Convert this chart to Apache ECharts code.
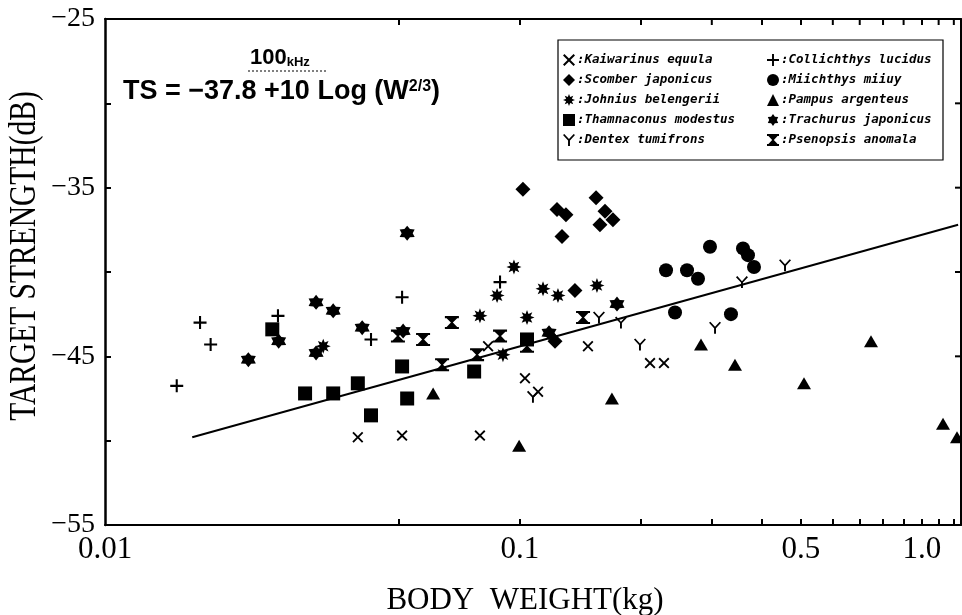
<!DOCTYPE html>
<html><head><meta charset="utf-8">
<script src="https://cdn.jsdelivr.net/npm/echarts@6/dist/echarts.min.js"></script>
<style>html,body{margin:0;padding:0;background:#fff}#c{width:962px;height:615px}</style>
</head><body><div id="c"></div>
<script>
// ---- axis settings / tick labels ----
const XMIN = 0.009283;
const XMAX = 1.2503;
const X_TICKS = [0.05, 0.1, 0.2, 0.3, 0.4, 0.5, 0.6, 0.7, 0.8, 0.9, 1.0, 1.1, 1.2];
const X_LABEL_VALUES = [0.00929, 0.1, 0.5, 1.0];
const X_LABEL_TEXT = ['0.01', '0.1', '0.5', '1.0'];
const Y_MIN = -55, Y_MAX = -25, Y_STEP = 5;
const Y_TICKS = [-50, -45, -40, -35, -30];
const Y_LABEL_VALUES = [-55, -45, -35, -25];

// ---- species (legend order) ----
const SPECIES = [
  'Kaiwarinus equula', 'Scomber japonicus', 'Johnius belengerii', 'Thamnaconus modestus', 'Dentex tumifrons',
  'Collichthys lucidus', 'Miichthys miiuy', 'Pampus argenteus', 'Trachurus japonicus', 'Psenopsis anomala'
];

// ---- data: [body weight (kg), target strength (dB)] ----
const KAIWARINUS = [[0.0395,-49.8],[0.0509,-49.7],[0.0795,-49.7],[0.0833,-44.4],[0.1029,-46.3],[0.1109,-47.1],[0.1476,-44.4],[0.2106,-45.4],[0.2281,-45.4]];
const SCOMBER = [[0.1017,-35.1],[0.1236,-36.3],[0.1301,-36.6],[0.1546,-35.6],[0.1627,-36.4],[0.1703,-36.9],[0.1581,-37.2],[0.1272,-37.9],[0.1370,-41.1],[0.1222,-44.1]];
const JOHNIUS = [[0.0966,-39.7],[0.0877,-41.4],[0.0795,-42.6],[0.1141,-41.0],[0.1243,-41.4],[0.1041,-42.7],[0.0907,-44.9],[0.1554,-40.8],[0.0324,-44.4]];
const THAMNACONUS = [[0.0242,-43.4],[0.0292,-47.2],[0.0343,-47.2],[0.0395,-46.6],[0.0426,-48.5],[0.0509,-45.6],[0.0524,-47.5],[0.0769,-45.9],[0.1041,-44.0]];
const DENTEX = [[0.1077,-47.4],[0.1572,-42.7],[0.1783,-43.0],[0.1988,-44.3],[0.3056,-43.3],[0.3566,-40.6],[0.4563,-39.6]];
const COLLICHTHYS = [[0.0140,-46.75],[0.0160,-43.0],[0.0170,-44.3],[0.0250,-42.6],[0.0426,-44.0],[0.0509,-41.5],[0.0892,-40.6]];
const MIICHTHYS = [[0.2308,-39.9],[0.2603,-39.9],[0.2772,-40.4],[0.2969,-38.5],[0.3587,-38.6],[0.3691,-39.0],[0.3820,-39.7],[0.2430,-42.4],[0.3348,-42.5]];
const PAMPUS = [[0.0608,-47.2],[0.0995,-50.3],[0.1693,-47.5],[0.2820,-44.3],[0.3426,-45.5],[0.5087,-46.6],[0.7467,-44.1],[1.128,-49.0],[1.222,-49.8]];
const TRACHURUS = [[0.0524,-37.7],[0.0311,-41.8],[0.0343,-42.3],[0.0405,-43.3],[0.0211,-45.2],[0.0251,-44.1],[0.0311,-44.8],[0.0512,-43.5],[0.1743,-41.9],[0.1181,-43.6]];
const PSENOPSIS = [[0.0497,-43.8],[0.0574,-44.0],[0.0677,-43.0],[0.0640,-45.5],[0.0782,-44.9],[0.0892,-43.8],[0.1041,-44.4],[0.1435,-42.7]];
// regression line TS = -37.8 + 10 log(W^(2/3)) endpoints as drawn
const REG_LINE = [[0.0153,-49.8],[1.23,-37.2]];

const SYM = {
  cross: 'path://M0,1.2L1.2,0L5,3.8L8.8,0L10,1.2L6.2,5L10,8.8L8.8,10L5,6.2L1.2,10L0,8.8L3.8,5Z',
  plus: 'path://M4.2,0H5.8V4.2H10V5.8H5.8V10H4.2V5.8H0V4.2H4.2Z',
  burst: 'path://M5,0L5.99,2.6L8.54,1.46L7.4,4L10,5L7.4,6L8.54,8.54L6,7.4L5,10L4,7.4L1.46,8.54L2.6,6L0,5L2.6,4L1.46,1.46L4,2.6Z',
  wye: 'path://M0,0.9L1.1,0L5,4.2L8.9,0L10,0.9L5.8,5.4V10H4.2V5.4Z',
  star: 'path://M5,0L6.6,2.23L9.33,2.5L8.2,5L9.33,7.5L6.6,7.77L5,10L3.4,7.77L0.67,7.5L1.8,5L0.67,2.5L3.4,2.23Z',
  hourglass: 'path://M0,0H10V1.6H8.8L5.7,5L8.8,8.4H10V10H0V8.4H1.2L4.3,5L1.2,1.6H0Z'
};

const seriesDefs = [
  [SPECIES[0], KAIWARINUS, SYM.cross, 11],
  [SPECIES[1], SCOMBER, 'diamond', 15],
  [SPECIES[2], JOHNIUS, SYM.burst, 15],
  [SPECIES[3], THAMNACONUS, 'rect', 14],
  [SPECIES[4], DENTEX, SYM.wye, 12],
  [SPECIES[5], COLLICHTHYS, SYM.plus, 13],
  [SPECIES[6], MIICHTHYS, 'circle', 14],
  [SPECIES[7], PAMPUS, 'triangle', [14, 12]],
  [SPECIES[8], TRACHURUS, SYM.star, 15],
  [SPECIES[9], PSENOPSIS, SYM.hourglass, [14, 13]]
];

const series = seriesDefs.map(d => ({
  name: d[0], type: 'scatter', data: d[1], symbol: d[2], symbolSize: d[3],
  xAxisIndex: 0, yAxisIndex: 0,
  itemStyle: { color: '#000', opacity: 1 }, emphasis: { disabled: true }, z: 3
}));
series.push({
  name: 'TS', type: 'line', data: REG_LINE, symbol: 'none', silent: true,
  xAxisIndex: 0, yAxisIndex: 0,
  lineStyle: { color: '#000', width: 2 }, z: 2
});

const legendCommon = {
  orient: 'vertical', itemGap: 6, itemWidth: 12, itemHeight: 12, padding: 0,
  selectedMode: false, formatter: n => ':' + n,
  textStyle: { fontFamily: 'DejaVu Sans Mono', fontStyle: 'italic', fontWeight: 'bold', fontSize: 12.5, lineHeight: 14, color: '#000', padding: [0, 0, 0, -3] }
};

const tickStyle = { color: '#000', width: 2 };
const TICK_LEN = 6;

const staticGraphic = [
  { type: 'rect', shape: { x: 558, y: 40, width: 385, height: 120 }, style: { fill: 'none', stroke: '#000', lineWidth: 1.2 }, z: 10 },
  { type: 'text', x: 250, y: 69, style: {
      text: '{a|100}{b|kHz}', verticalAlign: 'bottom', align: 'left', fill: '#000',
      rich: { a: { fontSize: 22, fontWeight: 'bold', fontFamily: 'Liberation Sans' }, b: { fontSize: 13, fontWeight: 'bold', fontFamily: 'Liberation Sans', verticalAlign: 'bottom' } }
  } },
  { type: 'line', shape: { x1: 248, y1: 71, x2: 328, y2: 71 }, style: { stroke: '#000', lineWidth: 1, lineDash: [2, 2] } },
  { type: 'text', x: 123, y: 92, style: {
      text: '{a|TS = \u221237.8 +10 Log (W}{s|2/3}{a|)}', verticalAlign: 'middle', align: 'left', fill: '#000',
      rich: { a: { fontSize: 27, fontWeight: 'bold', fontFamily: 'Liberation Sans' }, s: { fontSize: 16, fontWeight: 'bold', fontFamily: 'Liberation Sans', verticalAlign: 'top' } }
  } },
  { type: 'text', x: 25, y: 256, rotation: Math.PI / 2, scaleY: 1.25, style: {
      text: 'TARGET STRENGTH(dB)', fontFamily: 'Liberation Serif', fontSize: 29.5, fill: '#000', align: 'center', verticalAlign: 'middle'
  } },
  { type: 'text', x: 525, y: 601, style: {
      text: 'BODY  WEIGHT(kg)', fontFamily: 'Liberation Serif', fontSize: 31, fill: '#000', align: 'center', verticalAlign: 'middle'
  } }
];

const chart = echarts.init(document.getElementById('c'), null, { renderer: 'canvas' });
chart.setOption({
  animation: false,
  backgroundColor: '#fff',
  grid: { left: 105, right: 1, top: 19, bottom: 90, show: false },
  legend: [
    Object.assign({ left: 563, top: 53, data: SPECIES.slice(0, 5) }, legendCommon),
    Object.assign({ left: 767, top: 53, data: SPECIES.slice(5) }, legendCommon)
  ],
  xAxis: [{
    type: 'log', logBase: 10, min: XMIN, max: XMAX, position: 'bottom',
    axisLine: { show: true, onZero: false, lineStyle: { color: '#000', width: 2 } },
    axisTick: { show: true, inside: true, length: TICK_LEN, customValues: X_TICKS, lineStyle: tickStyle },
    axisLabel: {
      customValues: X_LABEL_VALUES, margin: 9, color: '#000', fontFamily: 'Liberation Serif', fontSize: 31,
      formatter: v => {
        let best = 0;
        X_LABEL_VALUES.forEach((lv, i) => { if (Math.abs(Math.log(lv) - Math.log(v)) < Math.abs(Math.log(X_LABEL_VALUES[best]) - Math.log(v))) best = i; });
        return X_LABEL_TEXT[best];
      }
    },
    splitLine: { show: false }, minorTick: { show: false }
  }, {
    type: 'log', logBase: 10, min: XMIN, max: XMAX, position: 'top',
    axisLine: { show: true, onZero: false, lineStyle: { color: '#000', width: 2 } },
    axisTick: { show: false }, axisLabel: { show: false }, splitLine: { show: false }, minorTick: { show: false }
  }],
  yAxis: [{
    type: 'value', min: Y_MIN, max: Y_MAX, interval: Y_STEP, position: 'left',
    axisLine: { show: true, onZero: false, lineStyle: { color: '#000', width: 2.5 } },
    axisTick: { show: true, inside: true, length: TICK_LEN, lineStyle: tickStyle },
    axisLabel: {
      margin: 10, color: '#000', fontFamily: 'Liberation Serif', fontSize: 28,
      formatter: v => Y_LABEL_VALUES.indexOf(v) >= 0 ? '\u2212' + Math.abs(v) : ''
    },
    splitLine: { show: false }
  }, {
    type: 'value', min: Y_MIN, max: Y_MAX, interval: Y_STEP, position: 'right',
    axisLine: { show: true, onZero: false, lineStyle: { color: '#000', width: 2 } },
    axisTick: { show: false }, axisLabel: { show: false }, splitLine: { show: false }
  }],
  graphic: staticGraphic,
  series: series
});

// inward ticks along the top and right frame edges, positioned through the chart's own axis scales
const topY = chart.convertToPixel({ yAxisIndex: 0 }, Y_MAX);
const rightX = chart.convertToPixel({ xAxisIndex: 0 }, XMAX);
const tickLines = [];
X_TICKS.forEach(v => {
  const px = chart.convertToPixel({ xAxisIndex: 0 }, v);
  tickLines.push({ type: 'line', shape: { x1: px, y1: topY, x2: px, y2: topY + TICK_LEN }, style: { stroke: '#000', lineWidth: 2 }, silent: true });
});
Y_TICKS.forEach(v => {
  const py = chart.convertToPixel({ yAxisIndex: 0 }, v);
  tickLines.push({ type: 'line', shape: { x1: rightX - TICK_LEN, y1: py, x2: rightX, y2: py }, style: { stroke: '#000', lineWidth: 2 }, silent: true });
});
chart.setOption({ graphic: { elements: staticGraphic.concat(tickLines) } });
</script></body></html>
